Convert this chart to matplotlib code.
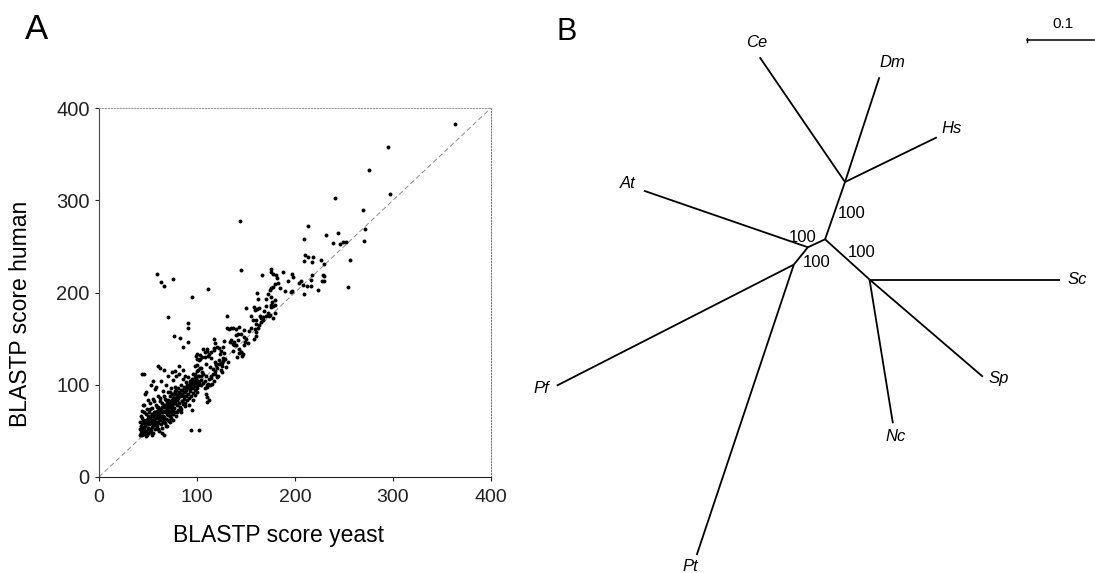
import numpy as np
import matplotlib
matplotlib.use("Agg")
import matplotlib.pyplot as plt

plt.rcParams['font.family'] = ['Liberation Sans', 'DejaVu Sans']

# ---- panel A data: BLASTP scores (yeast, human) ----
upper_x = [363, 295, 275, 297, 241, 144, 269, 213, 209, 232, 244, 239, 246, 249, 252, 271, 270, 256, 254, 210,
           213, 218, 209, 217, 227, 230, 229, 228, 217, 216, 208, 212, 209, 223, 206, 204, 197, 198, 197, 188,
           190, 176, 178, 181, 182, 174, 178, 180, 180, 178, 166, 161, 162, 170, 145, 150, 158, 159, 161, 164,
           167, 173, 174, 160, 162, 159, 160, 158, 111, 63, 66, 59, 76, 70, 95, 91, 91, 77, 83, 86,
           91, 216, 230, 230, 175, 178, 180, 176, 185, 193, 196, 183]
upper_y = [383, 358, 333, 307, 302, 278, 289, 272, 258, 262, 264, 254, 253, 255, 255, 269, 256, 235, 206, 241,
           239, 239, 234, 233, 235, 231, 219, 213, 219, 214, 208, 207, 198, 203, 213, 210, 220, 217, 202, 222,
           202, 226, 220, 219, 216, 203, 206, 209, 186, 185, 219, 199, 193, 193, 224, 183, 184, 181, 182, 174,
           173, 174, 176, 166, 162, 160, 153, 150, 204, 211, 207, 220, 215, 173, 195, 167, 162, 153, 151, 141,
           146, 207, 218, 212, 222, 172, 178, 186, 205, 212, 201, 210]

mid_x = [131, 131, 133, 137, 140, 142, 145, 148, 148, 135, 137, 138, 140, 143, 145, 147, 141, 143, 117, 118,
         117, 122, 124, 128, 129, 132, 100, 100, 103, 103, 106, 110, 114, 111, 108, 98, 101, 105, 109, 113,
         116, 119, 118, 121, 125, 126, 115, 111, 104, 110, 109, 110, 135, 143, 140, 128, 134, 138, 137, 142,
         148, 145, 146, 127, 120, 117, 123, 127, 127, 130, 124, 119, 122, 99, 102, 108, 110, 112, 114, 118,
         105, 100, 103, 98, 101, 101, 110, 112, 109, 104, 114,
         150, 152, 155, 157, 160, 163, 165, 167, 170, 172, 175, 177, 180, 176, 168, 165, 160, 155, 153, 149,
         163, 170, 172, 175]
mid_y = [175, 162, 160, 162, 160, 155, 155, 159, 152, 148, 144, 146, 143, 139, 135, 133, 130, 134, 150, 145,
         140, 140, 137, 134, 128, 125, 133, 128, 128, 132, 139, 137, 136, 131, 130, 120, 116, 114, 122, 119,
         117, 122, 112, 110, 114, 120, 101, 101, 105, 81, 90, 87, 162, 163, 154, 147, 146, 143, 137, 148,
         143, 136, 131, 141, 141, 138, 133, 129, 126, 119, 124, 121, 127, 131, 127, 136, 139, 133, 129, 125,
         130, 121, 118, 112, 110, 104, 100, 83, 109, 109, 107,
         150, 145, 162, 170, 157, 165, 168, 170, 175, 178, 184, 190, 192, 195, 180, 172, 170, 175, 158, 146,
         183, 185, 198, 205]

core_x = [42, 43, 44, 45, 46, 47, 48, 49, 50, 51, 52, 53, 54, 55, 56, 57, 58, 59, 60, 61,
          62, 63, 64, 65, 66, 67, 68, 69, 70, 71, 72, 73, 74, 75, 76, 77, 78, 79, 80, 81,
          82, 83, 84, 85, 86, 87, 88, 89, 90, 91, 92, 93, 94, 95, 96, 97, 98, 99, 100,
          42, 43, 44, 45, 44, 46, 47, 48, 49, 50, 51, 52, 53, 54, 55, 56, 57, 58, 59, 60,
          61, 62, 63, 64, 65, 66, 67, 68, 69, 70, 71, 72, 73, 74, 75, 76, 77, 78, 79, 80,
          81, 82, 83, 84, 85, 86, 87, 88, 89, 90, 91, 92, 93, 94, 95, 96, 60, 62, 55, 53,
          48, 46, 50, 58, 66, 70, 74, 78, 82, 86, 88, 96, 98,
          60, 64, 66, 68, 72, 76, 80, 84, 88, 92, 95, 94, 102, 96, 98, 100,
          42, 43, 44, 45, 46, 47, 48, 49, 50, 51, 52, 53, 54, 55, 56, 57, 58, 59, 60, 61,
          62, 63, 64, 65, 66, 67, 68, 69, 70, 71, 72, 73, 74, 75, 76, 77, 78, 79, 80, 81,
          82, 83, 84, 85, 86, 87, 88, 89, 90, 91, 92, 93, 94, 95, 96, 97, 98, 99, 100, 101,
          102, 104, 106, 108,
          100, 102, 104, 106, 108, 110, 112, 114, 116, 118, 120, 122, 124, 126, 120, 117, 113,
          43, 44, 45, 46, 47, 48, 49, 50, 51, 52, 53, 54, 55, 56, 57, 58, 59, 60, 61, 62,
          63, 64, 65, 66, 67, 68, 69, 70, 71, 72, 73, 74, 75, 76, 77, 78, 79, 80, 44, 46,
          48, 50, 52, 54, 56, 58, 60, 62, 64, 66, 68, 70, 72, 74, 76, 78]
core_y = [45, 48, 50, 47, 52, 55, 50, 46, 53, 57, 49, 51, 54, 48, 56, 52, 60, 55, 58, 50,
          62, 57, 53, 60, 65, 58, 63, 55, 67, 61, 70, 64, 68, 72, 62, 75, 70, 66, 78, 73,
          80, 76, 71, 82, 79, 85, 77, 88, 83, 90, 86, 93, 88, 96, 91, 99, 94, 102, 97,
          60, 66, 72, 78, 112, 112, 90, 68, 74, 63, 70, 80, 66, 75, 85, 70, 95, 78, 66, 88,
          74, 82, 104, 70, 93, 78, 85, 100, 75, 92, 80, 88, 96, 83, 90, 105, 86, 93, 110, 88,
          96, 112, 90, 100, 94, 106, 98, 92, 103, 96, 108, 100, 104, 98, 106, 102, 120, 118, 104, 100,
          92, 78, 84, 98, 116, 110, 114, 115, 120, 116, 110, 112, 108,
          52, 48, 45, 55, 60, 68, 70, 74, 80, 78, 73, 51, 51, 84, 89, 92,
          52, 55, 58, 62, 48, 60, 57, 62, 48, 60, 64, 58, 62, 66, 60, 64, 68, 72, 64, 68,
          72, 66, 76, 70, 72, 76, 70, 80, 74, 78, 76, 82, 78, 84, 80, 82, 86, 84, 90, 86,
          92, 88, 94, 90, 88, 92, 96, 94, 100, 98, 96, 102, 104, 100, 98, 104, 100, 106, 104, 100,
          102, 100, 102, 104,
          115, 110, 118, 112, 96, 98, 106, 110, 112, 115, 118, 122, 116, 124, 108, 104, 100,
          51, 46, 54, 58, 49, 62, 57, 66, 52, 58, 62, 68, 57, 63, 70, 64, 76, 70, 62, 66,
          74, 80, 66, 62, 72, 78, 68, 84, 72, 66, 78, 90, 80, 74, 90, 80, 94, 84, 64, 70,
          44, 58, 74, 46, 82, 56, 76, 86, 64, 88, 84, 62, 92, 74, 86, 98]

axis_ticks = [0, 100, 200, 300, 400]

# ---- panel B data: unrooted tree, coordinates in substitutions/site ----
nodes = {
    'n1': (0.0297, 0.0855), 'n2': (0.0, 0.0), 'n3': (-0.0257, -0.0119),
    'n4': (-0.0467, -0.0378), 'n5': (0.0663, -0.0600),
    'Ce': (-0.0975, 0.2716), 'Dm': (0.0810, 0.2418), 'Hs': (0.1667, 0.1522),
    'At': (-0.2704, 0.0725), 'Pf': (-0.4006, -0.2185), 'Pt': (-0.1916, -0.4712),
    'Sc': (0.3506, -0.0600), 'Nc': (0.1012, -0.2746), 'Sp': (0.2354, -0.2051),
}
edges = [('n1', 'Ce'), ('n1', 'Dm'), ('n1', 'Hs'), ('n1', 'n2'), ('n2', 'n3'), ('n3', 'At'),
         ('n3', 'n4'), ('n4', 'Pf'), ('n4', 'Pt'), ('n2', 'n5'), ('n5', 'Sc'), ('n5', 'Nc'),
         ('n5', 'Sp')]
taxa = ['Ce', 'Dm', 'Hs', 'At', 'Pf', 'Pt', 'Sc', 'Nc', 'Sp']
taxon_label_pos = [(-0.1024, 0.2940), (0.1001, 0.2642), (0.1890, 0.1657), (-0.2939, 0.0836),
                   (-0.4242, -0.2224), (-0.2009, -0.4887), (0.3760, -0.0600), (0.1057, -0.2946),
                   (0.2588, -0.2075)]
bootstrap = [100, 100, 100, 100]
bootstrap_pos = [(0.0391, 0.0388), (-0.0337, 0.0034), (-0.0133, -0.0343), (0.0545, -0.0194)]
scale_len = 0.1
scale_start = (0.3013, 0.2975)

W, H = 1095, 573
fig = plt.figure(figsize=(W / 100, H / 100), dpi=100)

# ---------------- panel A ----------------
ax = fig.add_axes([99 / W, 1 - 477 / H, 392 / W, 369 / H])
ax.plot([0, 400], [0, 400], color='#8a8a8a', lw=0.7, ls=(0, (5, 3)), zorder=1)
ax.scatter(upper_x + mid_x + core_x, upper_y + mid_y + core_y, s=8, c='black',
           linewidths=0, zorder=2)
ax.set_xlim(0, 400)
ax.set_ylim(0, 400)
ax.set_xticks(axis_ticks)
ax.set_yticks(axis_ticks)
ax.tick_params(axis='both', length=3, width=0.8, direction='out', colors='#222222')
ax.tick_params(axis='x', labelsize=14, pad=6)
ax.tick_params(axis='y', labelsize=14.5, pad=3.6)
for side, col, ls in [('left', '#444444', '-'), ('bottom', '#222222', '-'),
                      ('top', '#999999', ':'), ('right', '#777777', ':')]:
    ax.spines[side].set_color(col)
    ax.spines[side].set_linestyle(ls)
    ax.spines[side].set_linewidth(0.8)

fig.text(278.5 / W, 1 - 541.7 / H, 'BLASTP score yeast', fontsize=16.5,
         ha='center', va='baseline')
fig.text(21 / W, 1 - 313.5 / H, 'BLASTP score human', fontsize=16.5,
         ha='center', va='center', rotation=90)
fig.text(25 / W, 1 - 39 / H, 'A', fontsize=25, ha='left', va='baseline')

# ---------------- panel B ----------------
bx = fig.add_axes([520 / W, 0, 575 / W, 1])
bx.set_xlim((520 - 825.1) / 670, (1095 - 825.1) / 670)
bx.set_ylim((239.3 - 573) / 670, 239.3 / 670)
bx.axis('off')

for a, b in edges:
    (x0, y0), (x1, y1) = nodes[a], nodes[b]
    bx.plot([x0, x1], [y0, y1], color='black', lw=1.3, solid_capstyle='butt')

for name, (tx, ty) in zip(taxa, taxon_label_pos):
    bx.text(tx, ty, name, fontsize=12, style='italic', ha='center', va='center')

for val, (tx, ty) in zip(bootstrap, bootstrap_pos):
    bx.text(tx, ty, str(val), fontsize=12, ha='center', va='center')

sx, sy = scale_start
bx.plot([sx, sx + scale_len], [sy, sy], color='black', lw=1.1, clip_on=False)
bx.plot([sx, sx], [sy - 0.003, sy + 0.003], color='black', lw=1.0)
bx.text(sx + scale_len * 0.53, sy + 0.014, '0.1', fontsize=11, ha='center', va='bottom')

fig.text(556.7 / W, 1 - 40 / H, 'B', fontsize=22, ha='left', va='baseline')

fig.savefig('out.png', dpi=100)
